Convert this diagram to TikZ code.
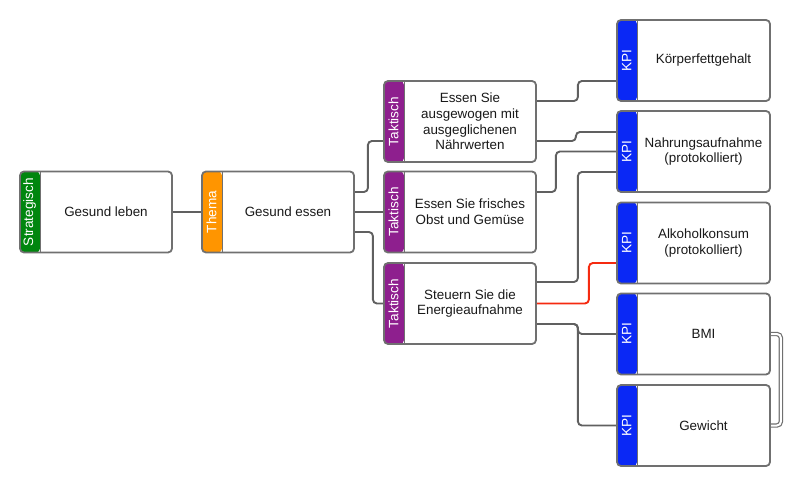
\documentclass[tikz,border=0pt]{standalone}
\usepackage{fontspec}
\setmainfont{Liberation Sans}
\usetikzlibrary{calc,backgrounds}
\definecolor{cgreen}{HTML}{00860E}
\definecolor{corange}{HTML}{FF9500}
\definecolor{cpurple}{HTML}{8E1F8E}
\definecolor{cblue}{HTML}{0A28F5}
\definecolor{boxgray}{HTML}{707070}
\definecolor{linegray}{HTML}{606060}
\definecolor{cred}{HTML}{F52A10}
\tikzset{
  card/.style={draw=boxgray, line width=1.8pt, fill=white, rounded corners=4pt,
    minimum width=152pt, minimum height=81pt, inner sep=0pt,
    path picture={\fill[#1] (path picture bounding box.north west) rectangle ([xshift=20pt]path picture bounding box.south west);
      \draw[boxgray, line width=0.8pt] ([xshift=20pt]path picture bounding box.north west) -- ([xshift=20pt]path picture bounding box.south west);}},
  txt/.style={align=center, inner sep=0pt, font=\fontsize{13.4}{15.7}\selectfont, text=black!90},
  tag/.style={rotate=90, inner sep=0pt, text=white, font=\fontsize{13.6}{15}\selectfont},
  conn/.style={draw=linegray, line width=1.9pt, rounded corners=4pt},
  redconn/.style={draw=cred, line width=1.9pt, rounded corners=4pt},
  twin/.style={draw=boxgray, line width=1.2pt, double=white, double distance=2pt, rounded corners=4pt},
}
\begin{document}
\begin{tikzpicture}[x=1pt,y=-1pt]
\useasboundingbox (0,0) rectangle (800,486);
% boxes
\node[card=cgreen] (S) at (96,212) {};
\node[card=corange] (Th) at (278,212) {};
\node[card=cpurple] (T1) at (460,121.5) {};
\node[card=cpurple] (T2) at (460,212) {};
\node[card=cpurple] (T3) at (460,303.5) {};
\node[card=cblue, minimum width=153pt] (K1) at (693.5,60.5) {};
\node[card=cblue, minimum width=153pt] (K2) at (693.5,151.5) {};
\node[card=cblue, minimum width=153pt] (K3) at (693.5,243) {};
\node[card=cblue, minimum width=153pt] (K4) at (693.5,334) {};
\node[card=cblue, minimum width=153pt] (K5) at (693.5,425.5) {};
% tags
\node[tag] (Stag) at ($(S.west)+(10.5,0)$) {Strategisch};
\node[tag] (Thtag) at ($(Th.west)+(10.5,0)$) {Thema};
\node[tag] (T1tag) at ($(T1.west)+(10.5,0)$) {Taktisch};
\node[tag] (T2tag) at ($(T2.west)+(10.5,0)$) {Taktisch};
\node[tag] (T3tag) at ($(T3.west)+(10.5,0)$) {Taktisch};
\node[tag] (K1tag) at ($(K1.west)+(10.5,0)$) {KPI};
\node[tag] (K2tag) at ($(K2.west)+(10.5,0)$) {KPI};
\node[tag] (K3tag) at ($(K3.west)+(10.5,0)$) {KPI};
\node[tag] (K4tag) at ($(K4.west)+(10.5,0)$) {KPI};
\node[tag] (K5tag) at ($(K5.west)+(10.5,0)$) {KPI};
% texts
\node[txt] (Stxt) at ($(S.center)+(10,0)$) {Gesund leben};
\node[txt] (Thtxt) at ($(Th.center)+(10,0)$) {Gesund essen};
\node[txt] (T1txt) at ($(T1.center)+(10,0)$) {Essen Sie\\ausgewogen mit\\ausgeglichenen\\Nährwerten};
\node[txt] (T2txt) at ($(T2.center)+(10,0)$) {Essen Sie frisches\\Obst und Gemüse};
\node[txt] (T3txt) at ($(T3.center)+(10,0)$) {Steuern Sie die\\Energieaufnahme};
\node[txt] (K1txt) at ($(K1.center)+(10,0)$) {Körperfettgehalt};
\node[txt] (K2txt) at ($(K2.center)+(10,0)$) {Nahrungsaufnahme\\(protokolliert)};
\node[txt] (K3txt) at ($(K3.center)+(10,0)$) {Alkoholkonsum\\(protokolliert)};
\node[txt] (K4txt) at ($(K4.center)+(10,0)$) {BMI};
\node[txt] (K5txt) at ($(K5.center)+(10,0)$) {Gewicht};
% connectors
\begin{scope}[on background layer]
\draw[conn] (S.east) -- (Th.west);
\draw[conn] ($(Th.east)+(0,-20)$) -- ++(13,0) |- ($(T1.west)+(0,19.5)$);
\draw[conn] (Th.east) -- (T2.west);
\draw[conn] ($(Th.east)+(0,20)$) -- ++(18,0) |- (T3.west);
\draw[conn] ($(T1.east)+(0,-20.5)$) -- ++(41,0) |- ($(K1.west)+(0,20.5)$);
\draw[conn] ($(T1.east)+(0,19.5)$) -- ++(39,0) |- ($(K2.west)+(0,-19.5)$);
\draw[conn] ($(T2.east)+(0,-20)$) -- ++(19,0) |- (K2.west);
\draw[conn] ($(T3.east)+(0,-21.5)$) -- ++(41,0) |- ($(K2.west)+(0,20.5)$);
\draw[conn] ($(T3.east)+(0,20.5)$) -- ++(41,0) |- (K4.west);
\draw[conn] ($(T3.east)+(0,20.5)$) -- ++(41,0) |- (K5.west);
\draw[redconn] (T3.east) -- ++(52,0) |- ($(K3.west)+(0,20)$);
\draw[twin] (K4.east) -- ++(10,0) |- (K5.east);
\end{scope}
\end{tikzpicture}
\end{document}
